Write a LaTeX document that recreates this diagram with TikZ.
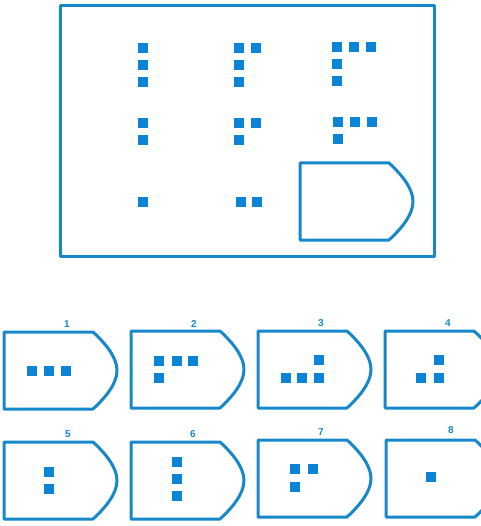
\documentclass[tikz,border=0pt]{standalone}
\usepackage{fontspec}
\setmainfont{Liberation Sans}
\usepackage{tikz}

\definecolor{lineblue}{RGB}{22,136,202}
\definecolor{tileblue}{RGB}{12,132,214}

\tikzset{
  frameline/.style={draw=lineblue,line width=3pt,line join=round},
  tile/.style={fill=tileblue},
  num/.style={font=\fontsize{10}{12}\selectfont\bfseries,text=lineblue,inner sep=0pt}
}
\newcommand{\shield}{\draw[frameline] (0,0) -- (89,0) .. controls (101,11) and (113,25) .. (113,38.5) .. controls (113,52) and (101,66) .. (89,77) -- (0,77) -- cycle;}
\newcommand{\tile}[2]{\fill[tile] (#1-5,#2-5) rectangle ++(10,10);}

\begin{document}
\begin{tikzpicture}[x=1pt,y=-1pt]
		\useasboundingbox (0,0) rectangle (480,526);
		% the puzzle
		\draw[frameline] (60,6) rectangle (434,256);
		\tile{143}{48} \tile{143}{65} \tile{143}{82}
		\tile{239}{48} \tile{256}{48} \tile{239}{65} \tile{239}{82}
		\tile{337}{47} \tile{354}{47} \tile{371}{47} \tile{337}{64} \tile{337}{81}
		\tile{143}{123} \tile{143}{140}
		\tile{239}{123} \tile{256}{123} \tile{239}{140}
		\tile{338}{122} \tile{355}{122} \tile{372}{122} \tile{338}{139}
		\tile{143}{202}
		\tile{241}{202} \tile{257}{202}
		\begin{scope}[shift={(300,163)}]
		\shield
		\end{scope}
		% the answers
		\begin{scope}[shift={(4,332)}]
		\shield
		\node[num] (n1) at (63,-8) {1};
		\tile{28}{39} \tile{45}{39} \tile{62}{39}
		\end{scope}
		\begin{scope}[shift={(131,331)}]
		\shield
		\node[num] (n2) at (63,-7) {2};
		\tile{28}{30} \tile{46}{30} \tile{62}{30} \tile{28}{47}
		\end{scope}
		\begin{scope}[shift={(258,331)}]
		\shield
		\node[num] (n3) at (63,-8) {3};
		\tile{28}{47} \tile{44}{47} \tile{61}{47} \tile{61}{29}
		\end{scope}
		\begin{scope}[shift={(385,331)}]
		\shield
		\node[num] (n4) at (63,-8) {4};
		\tile{36}{47} \tile{54}{47} \tile{54}{29}
		\end{scope}
		\begin{scope}[shift={(4,442)}]
		\shield
		\node[num] (n5) at (64,-8) {5};
		\tile{45}{30} \tile{45}{47}
		\end{scope}
		\begin{scope}[shift={(131,442)}]
		\shield
		\node[num] (n6) at (62,-8) {6};
		\tile{46}{20} \tile{46}{37} \tile{46}{54}
		\end{scope}
		\begin{scope}[shift={(258,440)}]
		\shield
		\node[num] (n7) at (63,-8) {7};
		\tile{37}{29} \tile{55}{29} \tile{37}{47}
		\end{scope}
		\begin{scope}[shift={(386,440)}]
		\shield
		\node[num] (n8) at (65,-10) {8};
		\tile{45}{37}
		\end{scope}
\end{tikzpicture}
\end{document}
